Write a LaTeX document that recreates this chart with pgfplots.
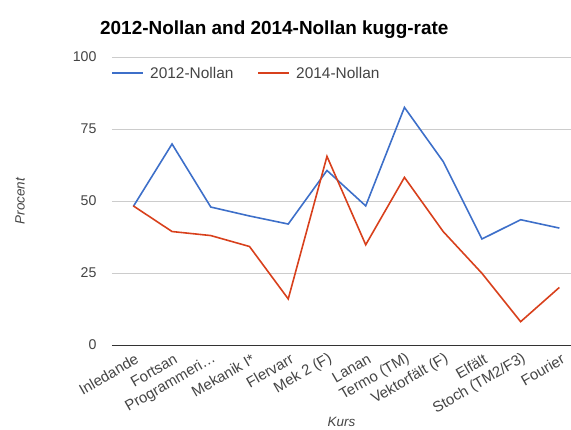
\documentclass[border=0pt]{standalone}
\usepackage{pgfplots}
\pgfplotsset{compat=1.18}
\usepackage{fontspec}
\setmainfont{Liberation Sans}
\definecolor{gblue}{HTML}{3D6FC9}
\definecolor{gred}{HTML}{D8401C}
\definecolor{gridgray}{HTML}{CCCCCC}
\definecolor{txtgray}{HTML}{444444}

\begin{document}
\begin{tikzpicture}
  \useasboundingbox (-112bp,-85bp) rectangle (459bp,345bp);
  \begin{axis}[
    scale only axis,
    width=459bp, height=288bp,
    xmin=-0.55, xmax=11.3,
    ymin=0, ymax=100,
    ytick={0,25,50,75,100},
    xtick={0,...,11},
    xticklabels={Inledande, Fortsan, Programmeri\ldots, Mekanik I*, Flervarr, Mek 2 (F), Lanan, Termo (TM), Vektorfält (F), Elfält, Stoch (TM2/F3), Fourier},
    x tick label style={rotate=30, anchor=east, inner sep=0pt, font=\fontsize{15}{16}\selectfont, text=txtgray, yshift=-13bp, xshift=-3bp},
    y tick label style={font=\fontsize{14.2}{15}\selectfont, text=txtgray},
    /pgf/number format/assume math mode=true,
    yticklabel style={xshift=-12bp},
    axis lines=left,
    x axis line style={-, draw=black!80, line width=0.8pt},
    y axis line style={draw=none},
    major tick length=0pt,
    ymajorgrids,
    grid style={gridgray, line width=0.5pt},
    xlabel={\itshape Kurs},
    xlabel style={font=\fontsize{13.5}{14}\selectfont, text=txtgray, at={(axis description cs:0.5,0)}, anchor=center, yshift=-77bp},
    ylabel={\itshape Procent},
    ylabel style={font=\fontsize{13.5}{14}\selectfont, text=txtgray, at={(axis description cs:-0.2004,0.5)}, anchor=center},
    clip=false,
  ]
    \addplot[gblue, line width=1.6pt] coordinates {
      (0,48.1) (1,69.8) (2,47.9) (3,44.8) (4,42.0) (5,60.6)
      (6,48.3) (7,82.5) (8,63.7) (9,36.8) (10,43.5) (11,40.6)
    };
    \addplot[gred, line width=1.6pt] coordinates {
      (0,48.3) (1,39.4) (2,38.0) (3,34.2) (4,16.0) (5,65.5)
      (6,34.8) (7,58.2) (8,39.4) (9,24.9) (10,8.1) (11,20.0)
    };
  \end{axis}
  % legend
  \draw[gblue, line width=1.6pt] (0bp,272bp) -- (31bp,272bp);
  \node[anchor=west, inner sep=0pt, text=txtgray, font=\fontsize{15.5}{16}\selectfont] at (38bp,272bp) {2012-Nollan};
  \draw[gred, line width=1.6pt] (146bp,272bp) -- (177bp,272bp);
  \node[anchor=west, inner sep=0pt, text=txtgray, font=\fontsize{15.5}{16}\selectfont] at (184bp,272bp) {2014-Nollan};
  \node[anchor=west, inner sep=0pt, font=\bfseries\fontsize{19}{20}\selectfont] at (-12bp,315bp) {2012-Nollan and 2014-Nollan kugg-rate};
\end{tikzpicture}
\end{document}
